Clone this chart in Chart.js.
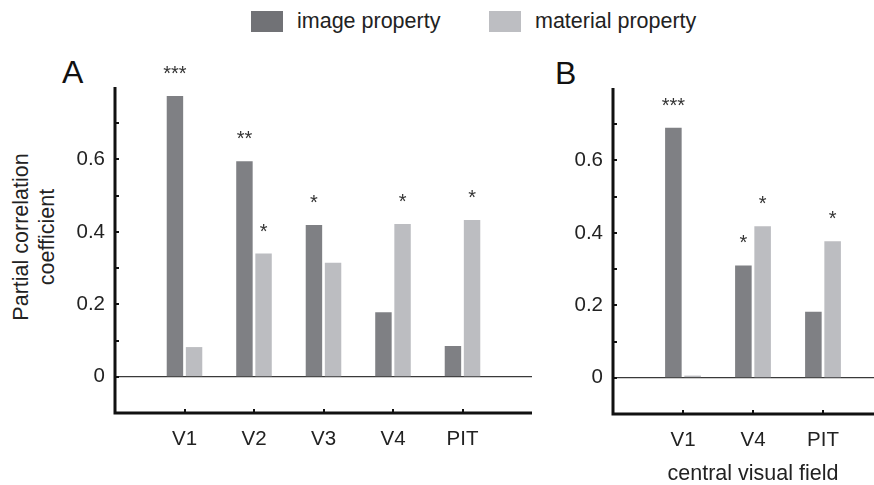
<!DOCTYPE html>
<html>
<head>
<meta charset="utf-8">
<script src="https://cdn.jsdelivr.net/npm/chart.js@4/dist/chart.umd.min.js"></script>
<style>
  html, body { margin: 0; padding: 0; background: #fff; overflow: hidden; }
  body { width: 874px; height: 485px; position: relative; font-family: "Liberation Sans", Arial, sans-serif; color: #222; }
  canvas { position: absolute; top: 0; }
  #chartA { left: 0; }
  #chartB { left: 540px; }
  .key { position: absolute; top: 11px; width: 32px; height: 21px; }
  .keyText { position: absolute; top: 8px; font-size: 21.5px; line-height: 26px; }
  .panel { position: absolute; font-size: 32px; line-height: 32px; color: #111; }
  #ytitle { position: absolute; left: 34px; top: 237px; width: 220px; transform: translate(-50%, -50%) rotate(-90deg);
            text-align: center; font-size: 21.5px; line-height: 26px; }
</style>
</head>
<body>
<div class="key" style="left:251px;background:#717276"></div>
<div class="keyText" style="left:297px">image property</div>
<div class="key" style="left:489px;background:#bdbec2"></div>
<div class="keyText" style="left:535px">material property</div>
<div class="panel" style="left:62px;top:56px">A</div>
<div class="panel" style="left:555px;top:57px">B</div>
<div id="ytitle">Partial correlation<br>coefficient</div>
<canvas id="chartA" width="540" height="485"></canvas>
<canvas id="chartB" width="360" height="485"></canvas>
<script>
// panel A: all visual field
const areasA = ['V1', 'V2', 'V3', 'V4', 'PIT'];
const imageA = [0.775, 0.595, 0.419, 0.178, 0.085];
const materialA = [0.082, 0.34, 0.315, 0.422, 0.433];
const starsImageA = ['***', '**', '*', '', ''];
const starsMaterialA = ['', '*', '', '*', '*'];

// panel B: central visual field
const areasB = ['V1', 'V4', 'PIT'];
const imageB = [0.69, 0.31, 0.182];
const materialB = [0.006, 0.418, 0.377];
const starsImageB = ['***', '*', ''];
const starsMaterialB = ['', '*', '*'];

const DARK = '#7f8084';
const LIGHT = '#bcbdc1';
const FONT = '"Liberation Sans", Arial, sans-serif';

// blank slot on each side so the bars sit one step in from the axes
const pad = arr => [null, ...arr, null];

// axis lines + tick marks pointing into the plot, like the original figure
const innerTicks = {
  id: 'innerTicks',
  afterDraw(chart) {
    const { ctx, scales: { x, y } } = chart;
    ctx.save();
    ctx.strokeStyle = '#111';
    ctx.lineWidth = 3;
    ctx.beginPath();
    ctx.moveTo(y.right, y.top); ctx.lineTo(y.right, x.top); ctx.lineTo(x.right, x.top);
    ctx.stroke();
    ctx.lineWidth = 2;
    y.ticks.forEach(t => {
      if (t.value < -0.05 || t.value > 0.75) return;
      const py = Math.round(y.getPixelForValue(t.value));
      ctx.beginPath(); ctx.moveTo(y.right, py); ctx.lineTo(y.right + 4, py); ctx.stroke();
    });
    chart.data.labels.forEach((lab, i) => {
      if (!lab) return;
      const px = Math.round(x.getPixelForTick(i));
      ctx.beginPath(); ctx.moveTo(px, x.top); ctx.lineTo(px, x.top - 4); ctx.stroke();
    });
    ctx.restore();
  }
};

// significance stars over the bars
const stars = {
  id: 'stars',
  afterDatasetsDraw(chart) {
    const ctx = chart.ctx;
    ctx.save();
    ctx.font = '20px ' + FONT;
    ctx.fillStyle = '#333';
    ctx.textAlign = 'center';
    ctx.textBaseline = 'alphabetic';
    chart.data.datasets.forEach((ds, i) => {
      chart.getDatasetMeta(i).data.forEach((bar, j) => {
        const s = ds.stars[j];
        if (s) ctx.fillText(s, bar.x, bar.y - 16);
      });
    });
    ctx.restore();
  }
};

function makePanel(id, areas, image, material, starsImg, starsMat, opts) {
  return new Chart(document.getElementById(id), {
    type: 'bar',
    data: {
      labels: ['', ...areas, ''],
      datasets: [
        { label: 'image property', data: pad(image), backgroundColor: DARK, stars: pad(starsImg) },
        { label: 'material property', data: pad(material), backgroundColor: LIGHT, stars: pad(starsMat) }
      ]
    },
    options: {
      responsive: false,
      animation: false,
      devicePixelRatio: 1,
      layout: { padding: { top: opts.top, right: opts.right, left: 0, bottom: 0 } },
      datasets: { bar: { categoryPercentage: 0.55, barPercentage: 0.86 } },
      plugins: { legend: { display: false }, tooltip: { enabled: false } },
      scales: {
        x: {
          offset: false,
          grid: { display: false },
          border: { display: false },
          ticks: { autoSkip: false, maxRotation: 0, padding: 6, color: '#222', font: { family: FONT, size: 20.5 } },
          title: {
            display: !!opts.xTitle, text: opts.xTitle || '', color: '#222',
            font: { family: FONT, size: 21.5, lineHeight: 1 }, padding: { top: 0, bottom: 0 }
          },
          afterFit: s => { s.height = opts.xHeight; }
        },
        y: {
          min: -0.1,
          max: 0.8,
          grid: {
            drawTicks: false,
            lineWidth: 1.3,
            color: c => Math.abs(c.tick.value) < 1e-6 ? '#3a3a3a' : 'rgba(0,0,0,0)'
          },
          border: { display: false },
          ticks: {
            stepSize: 0.1,
            padding: 10,
            color: '#222',
            font: { family: FONT, size: 20.5 },
            callback: v => {
              const k = Math.round(v * 10);
              return (k >= 0 && k <= 6 && k % 2 === 0) ? (k === 0 ? '0' : (k / 10).toFixed(1)) : '';
            }
          },
          afterFit: s => { s.width = opts.yWidth; }
        }
      }
    },
    plugins: [innerTicks, stars]
  });
}

makePanel('chartA', areasA, imageA, materialA, starsImageA, starsMaterialA,
  { top: 87, right: 8, yWidth: 115, xHeight: 72 });
makePanel('chartB', areasB, imageB, materialB, starsImageB, starsMaterialB,
  { top: 88, right: 7, yWidth: 73, xHeight: 71, xTitle: 'central visual field' });
</script>
</body>
</html>
